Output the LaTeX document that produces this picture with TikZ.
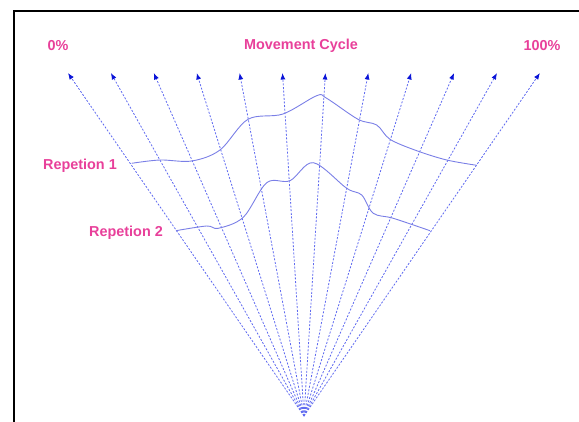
\documentclass[tikz,border=0pt]{standalone}
\usepackage{fontspec}
\setmainfont{Liberation Sans}
\usepackage{xcolor}
\usetikzlibrary{arrows.meta,positioning,calc}
\definecolor{PK}{HTML}{E8409A}
\definecolor{PL}{HTML}{5F6AF0}
\definecolor{PC}{HTML}{7A7FE6}
\definecolor{PT}{HTML}{0A14D8}

\begin{document}
\begin{tikzpicture}[x=1pt, y=-1pt,
    fanline/.style={PL, line width=0.8pt, dash pattern=on 2pt off 1.6pt,
                    -{Latex[length=6.5pt,width=5pt,color=PT]}},
    cycleline/.style={PC, line width=0.9pt},
    lbl/.style={font=\fontsize{14.4}{14.4}\selectfont\bfseries, color=PK}]

        \useasboundingbox (0,0) rectangle (579,422);

        %% ── frame (only top and left edges show) ──
        \draw[line width=1.6pt] (14,422) -- (14,11) -- (579,11);

        %% ── fan of cycle lines ───────────────────
        \coordinate (apex) at (304,416);
        \foreach \i in {0,...,11}{
          \coordinate (t\i) at (68+\i*42.9, 73);
          \draw[fanline] (apex) -- (t\i);
        }

        %% ── titles ──────────────────────────────
        \node[lbl] (start) at (58,46) {0\%};
        \node[lbl] (title) at (301,46) {Movement Cycle};
        \node[lbl] (end)   at (542,46) {100\%};

        %% ── repetition 1 ─────────────────────────
        \draw[cycleline] plot[smooth, tension=0.55] coordinates {
          (131.7,163.3) (160,160) (191.7,161) (220,150) (248,119.3)
          (283,114) (316.7,95.7) (326.7,98.3) (358,119.3) (376.7,125)
          (390,139.3) (416.7,150.7) (446.7,160) (476.7,165.3)};
        \node[lbl] (rep1) at (80,166) {Repetion 1};

        %% ── repetition 2 ─────────────────────────
        \draw[cycleline] plot[smooth, tension=0.55] coordinates {
          (176,230.7) (206.7,226) (218.3,228.3) (243.3,217.3)
          (266.7,182.7) (290,180.7) (313.3,162.7) (346.7,188.3)
          (361.7,195) (373.3,213.3) (393.3,218.3) (430,230.7)};
        \node[lbl] (rep2) at (126,233) {Repetion 2};

\end{tikzpicture}
\end{document}
